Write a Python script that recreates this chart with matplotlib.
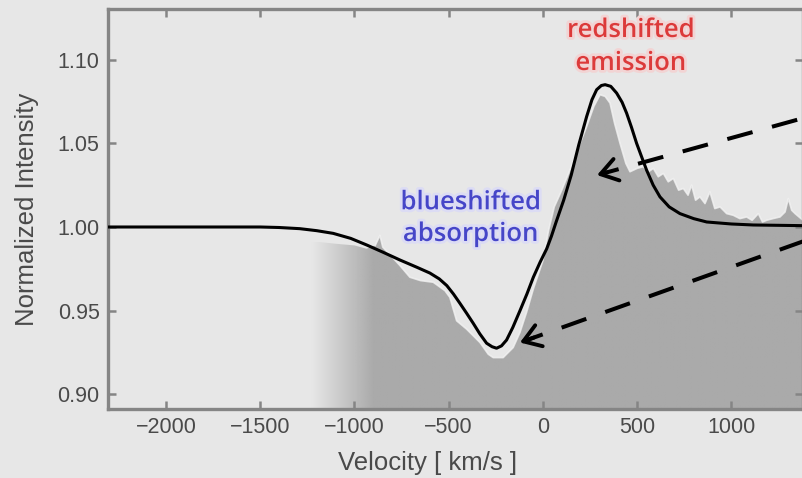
import numpy as np
import matplotlib
matplotlib.use("Agg")
import matplotlib.pyplot as plt
import matplotlib.patheffects as pe

# === Data ===
# model line profile
model_v = [-2310, -1500, -1400, -1290, -1200, -1113, -1020, -936, -850, -759, -670,
           -600, -550, -510, -475, -441, -405, -370, -335, -299, -270, -246, -220,
           -193, -160, -122, -85, -51, -15, 20, 45, 70, 110, 150, 190, 232, 260,
           285, 310, 330, 360, 391, 420, 444, 470, 497, 525, 550, 585, 621, 670,
           727, 800, 869, 1000, 1116, 1250, 1380]
model_i = [1.000, 1.000, 0.9997, 0.9990, 0.9978, 0.9962, 0.9932, 0.9893, 0.9850,
           0.9803, 0.9760, 0.9725, 0.9690, 0.9650, 0.9600, 0.9545, 0.9485, 0.9425,
           0.9362, 0.9306, 0.9285, 0.9276, 0.9290, 0.9325, 0.9400, 0.9500, 0.9600,
           0.9700, 0.9790, 0.9870, 0.9945, 1.0030, 1.0160, 1.0310, 1.0490, 1.0660,
           1.0760, 1.0820, 1.0845, 1.0850, 1.0840, 1.0800, 1.0745, 1.0680, 1.0595,
           1.0500, 1.0415, 1.0340, 1.0250, 1.0180, 1.0120, 1.0080, 1.0050, 1.0030,
           1.0018, 1.0012, 1.0010, 1.0008]

# observed spectrum (grey fill)
obs_v = [-1240, -1184, -1100, -1000, -936, -890, -865, -850, -800, -759, -706,
         -650, -582, -520, -494, -458, -405, -334, -290, -264, -211, -158, -122,
         -87, -51, 0, 30, 60, 100, 143, 190, 232, 270, 303, 330, 356, 380, 409,
         440, 462, 500, 532, 560, 586, 612, 639, 665, 692, 720, 745, 770, 789,
         810, 833, 860, 886, 912, 940, 975, 1010, 1045, 1081, 1110, 1143, 1165,
         1187, 1220, 1258, 1285, 1302, 1320, 1338, 1380]
obs_i = [0.991, 0.991, 0.990, 0.989, 0.987, 0.989, 0.995, 0.988, 0.982, 0.977,
         0.970, 0.968, 0.967, 0.962, 0.958, 0.944, 0.939, 0.931, 0.924, 0.922,
         0.922, 0.928, 0.937, 0.949, 0.963, 0.980, 0.998, 1.012, 1.022, 1.034,
         1.048, 1.060, 1.072, 1.079, 1.078, 1.074, 1.062, 1.050, 1.038, 1.033,
         1.035, 1.036, 1.033, 1.035, 1.030, 1.032, 1.027, 1.029, 1.022, 1.023,
         1.019, 1.025, 1.016, 1.018, 1.014, 1.021, 1.011, 1.012, 1.008, 1.007,
         1.005, 1.006, 1.004, 1.008, 1.003, 1.004, 1.005, 1.006, 1.009, 1.017,
         1.010, 1.008, 1.004]

x_ticks = [-2000, -1500, -1000, -500, 0, 500, 1000]
y_ticks = [0.90, 0.95, 1.00, 1.05, 1.10]
x_lim = (-2308, 1380)
y_lim = (0.8913, 1.1302)

# annotation arrows: (tip, tail) in data coords
arrow_red = ((287, 1.031), (1380, 1.065))
arrow_blue = ((-122, 0.931), (1380, 0.9914))

# === Style ===
BG = "#e7e7e7"
FILL = "#aaaaaa"
SPINE = "#858585"
TXT = "#4a4a4a"

plt.rcParams.update({
    "font.family": ["Liberation Sans", "DejaVu Sans"],
    "axes.unicode_minus": True,
})

fig = plt.figure(figsize=(8.02, 4.78), dpi=100, facecolor=BG)
ax = fig.add_axes([108 / 802, 69 / 478, 695 / 802, 400 / 478], facecolor=BG)

# grey observed profile, faded in on the blue side
base = np.full(len(obs_v), y_lim[0] - 0.01)
poly = ax.fill_between(obs_v, base, obs_i, facecolor="none", edgecolor="none", zorder=1)
ramp = np.linspace(0, 1, 400)
fade_start, fade_end = -1230, -900
xs = x_lim[0] + ramp * (x_lim[1] - x_lim[0])
alpha = np.clip((xs - fade_start) / (fade_end - fade_start), 0, 1)
grad = np.zeros((2, len(xs), 4))
grad[..., :3] = matplotlib.colors.to_rgb(FILL)
grad[..., 3] = alpha
im = ax.imshow(grad, extent=[x_lim[0], x_lim[1], y_lim[0] - 0.01, y_lim[1]],
               aspect="auto", origin="lower", zorder=1, interpolation="bilinear")
im.set_clip_path(poly.get_paths()[0], transform=ax.transData)

# light rim along the observed edge
mask = np.array(obs_v) > -900
ax.plot(np.array(obs_v)[mask], np.array(obs_i)[mask], color="#f3f3f3", lw=1.2,
        alpha=0.8, zorder=2)

# model line
ax.plot(model_v, model_i, color="black", lw=2.2, zorder=3)

# dashed arrows
for tip, tail in (arrow_red, arrow_blue):
    ax.plot([tip[0] + 0.02 * (tail[0] - tip[0]), tail[0]],
            [tip[1] + 0.02 * (tail[1] - tip[1]), tail[1]], color="black", lw=2.9,
            ls=(2, (6.5, 5)), zorder=4, clip_on=False, dash_capstyle="butt")
    ax.annotate("", xy=tip, xytext=(tip[0] + 0.05 * (tail[0] - tip[0]),
                                    tip[1] + 0.05 * (tail[1] - tip[1])),
                arrowprops=dict(arrowstyle="->,head_length=0.6,head_width=0.4",
                                mutation_scale=20, color="black", lw=2.8,
                                shrinkA=0, shrinkB=0),
                zorder=5)

# labels in the plot
ax.text(467, 1.1075, "redshifted\nemission", color="#dc3a3a", fontsize=18.5,
        family=["Open Sans", "DejaVu Sans"], weight="semibold", ha="center",
        va="center", linespacing=1.42, zorder=6,
        path_effects=[pe.withStroke(linewidth=4, foreground="#f2d4d4")])
ax.text(-382, 1.0050, "blueshifted\nabsorption", color="#4646c8", fontsize=18.5,
        family=["Open Sans", "DejaVu Sans"], weight="semibold", ha="center",
        va="center", linespacing=1.35, zorder=6,
        path_effects=[pe.withStroke(linewidth=4, foreground="#dcdcf4")])

# axes
ax.set_xlim(*x_lim)
ax.set_ylim(*y_lim)
ax.set_xticks(x_ticks)
ax.set_yticks(y_ticks)
ax.set_yticklabels([f"{v:.2f}" for v in y_ticks])
ax.tick_params(direction="in", length=6, width=1.8, color=SPINE, top=True,
               right=True, labelsize=15.5, labelcolor=TXT, pad=6)
for s in ax.spines.values():
    s.set_color(SPINE)
    s.set_linewidth(2.4)

fig.text(428 / 802, 1 - 463 / 478, "Velocity [ km/s ]", fontsize=18.5, color=TXT,
         ha="center", va="center")
fig.text(27 / 802, 1 - 209 / 478, "Normalized Intensity", fontsize=18.5, color=TXT,
         ha="center", va="center", rotation=90)

fig.savefig("out.png", dpi=100, facecolor=BG)
